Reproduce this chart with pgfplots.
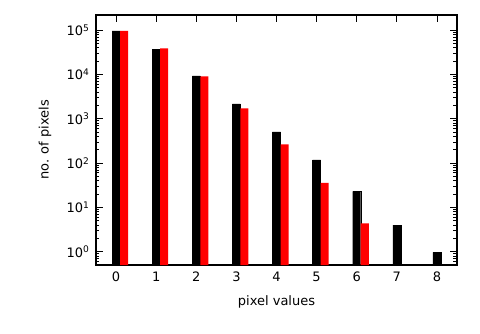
\documentclass[border=0pt]{standalone}
\usepackage{fontspec}
\setmainfont{DejaVu Sans}
\usepackage{pgfplots}
\pgfplotsset{compat=1.18}
\begin{document}
\begin{tikzpicture}
\path[use as bounding box] (-96pt,-68pt) rectangle (384pt,265pt);
\begin{axis}[
    at={(0pt,0pt)}, anchor=south west,
    scale only axis,
    width=361pt, height=250pt,
    ymode=log,
    log origin=infty,
    ybar,
    bar width=0.2,
    xmin=-0.5, xmax=8.5,
    ymin=0.5, ymax=2.2e5,
    xtick={0,1,...,8},
    yticklabel={10\textsuperscript{\pgfmathparse{round(\tick/ln(10))}\pgfmathprintnumber{\pgfmathresult}}},
    /pgf/number format/assume math mode=true,
    tick align=inside,
    major tick length=7pt,
    minor tick length=3.5pt,
    axis line style={line width=1.3pt},
    tick style={black, line width=0.8pt},
    tick label style={font=\fontsize{13}{15}\selectfont},
    label style={font=\fontsize{13}{15}\selectfont},
    xlabel={pixel values},
    ylabel={no. of pixels},
    xlabel style={at={(axis description cs:0.5,0)}, anchor=center, yshift=-36.7pt},
    ylabel style={at={(axis description cs:0,0.5)}, anchor=center, rotate=0, yshift=51pt},
    yticklabel style={xshift=-3pt},
    xticklabel style={yshift=-3.5pt},
]
\addplot[fill=black, draw=black, bar shift=0] coordinates {
    (0,96000) (1,36600) (2,9300) (3,2170) (4,506) (5,118) (6,22.9) (7,3.96) (8,0.97)
};
\addplot[fill=red, draw=none, bar shift=0.2] coordinates {
    (0,96000) (1,38700) (2,9000) (3,1710) (4,263) (5,35.7) (6,4.33)
};
\end{axis}
\end{tikzpicture}
\end{document}
